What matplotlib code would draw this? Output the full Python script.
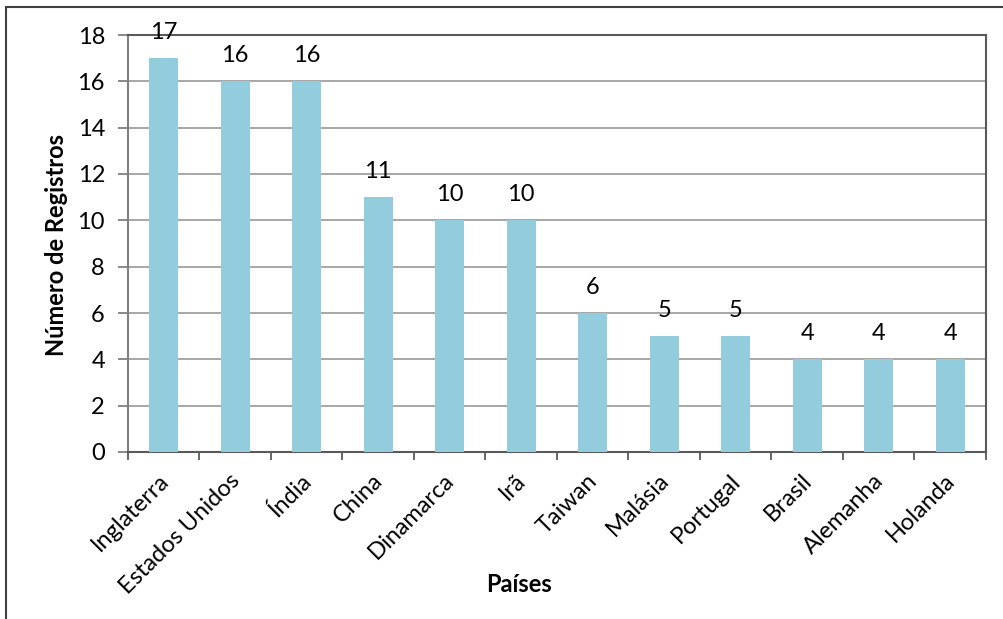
import matplotlib
matplotlib.use("Agg")
import matplotlib.pyplot as plt
import matplotlib.transforms as mtransforms
from matplotlib.patches import Rectangle
from matplotlib.ticker import MultipleLocator
import numpy as np

paises = ["Inglaterra", "Estados Unidos", "Índia", "China", "Dinamarca", "Irã",
          "Taiwan", "Malásia", "Portugal", "Brasil", "Alemanha", "Holanda"]
registros = [17, 16, 16, 11, 10, 10, 6, 5, 5, 4, 4, 4]

plt.rcParams["font.family"] = ["Lato", "DejaVu Sans"]

W, H = 1004, 619
PX = 72 / 100  # points per pixel

fig = plt.figure(figsize=(W / 100, H / 100), dpi=100)
ax = fig.add_axes([128 / W, 1 - 452 / H, (986 - 128) / W, (452 - 35) / H])

x = np.arange(len(paises))
ax.bar(x, registros, width=0.4, color="#93CDDD", edgecolor="none", zorder=3)

for xi, v in zip(x, registros):
    ax.annotate(str(v), (xi, v), xytext=(0, 26 * PX), textcoords="offset points",
                ha="center", va="center", fontsize=17, color="#000000", zorder=5,
                annotation_clip=False)

ax.set_xlim(-0.5, len(paises) - 0.5)
ax.set_ylim(0, 18)
ax.yaxis.set_major_locator(MultipleLocator(2))
ax.grid(axis="y", color="#A0A0A0", linewidth=1.3, zorder=1)
ax.set_axisbelow(True)

ax.set_xticks(x)
ax.set_xticklabels(paises, rotation=45, ha="right", rotation_mode="anchor", fontsize=17)
ax.set_xticks(np.arange(-0.5, len(paises)), minor=True)
ax.tick_params(axis="x", which="major", length=0, pad=18 * PX)
ax.tick_params(axis="x", which="minor", length=8 * PX, width=1.3, color="#595959", direction="out")
ax.tick_params(axis="y", length=10 * PX, width=1.3, color="#808080", labelsize=17, pad=13 * PX)

# nudge category labels slightly left
shift = mtransforms.ScaledTranslation(-6 / 100, 0, fig.dpi_scale_trans)
for lbl in ax.get_xticklabels():
    lbl.set_transform(lbl.get_transform() + shift)

for side in ["top", "right", "left", "bottom"]:
    ax.spines[side].set_linewidth(1.5)
ax.spines["top"].set_color("#595959")
ax.spines["right"].set_color("#595959")
ax.spines["left"].set_color("#808080")
ax.spines["bottom"].set_color("#595959")

ax.set_ylabel("Número de Registros", fontsize=17, fontweight="bold")
ax.yaxis.set_label_coords(57 / W, 1 - 245 / H, transform=fig.transFigure)
ax.set_xlabel("Países", fontsize=17, fontweight="bold")
ax.xaxis.set_label_coords(519 / W, 1 - 585 / H, transform=fig.transFigure)
ax.xaxis.label.set_va("center")
ax.yaxis.label.set_va("center")

# chart border
fig.patches.append(Rectangle((6 / W, -0.1), 1.2, (H - 7) / H + 0.1,
                             transform=fig.transFigure, fill=False,
                             edgecolor="#404040", linewidth=1.5))

fig.savefig("out.png", dpi=100)
